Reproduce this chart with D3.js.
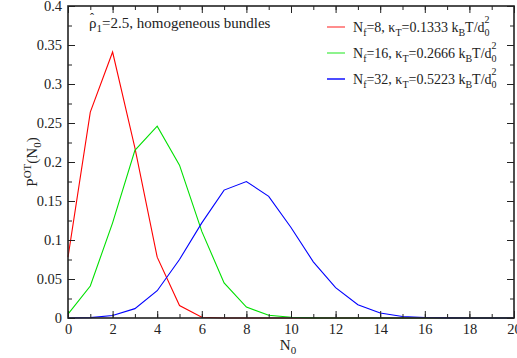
<!DOCTYPE html>
<html>
<head>
<meta charset="utf-8">
<script src="https://cdn.jsdelivr.net/npm/d3@7/dist/d3.min.js"></script>
</head>
<body style="margin:0;background:#fff">
<svg id="chart" width="517" height="358"></svg>
<script>
// Occupation number N0 and the distribution P^OT(N0) for three bundle sizes
const n0 = d3.range(0, 21);
const pNf8  = [0.078, 0.264, 0.341, 0.218, 0.078, 0.016, 0.001, 0, 0, 0, 0, 0, 0, 0, 0, 0, 0, 0, 0, 0, 0];
const pNf16 = [0.005, 0.041, 0.122, 0.215, 0.246, 0.196, 0.111, 0.045, 0.014, 0.0035, 0.001, 0.0002, 0, 0, 0, 0, 0, 0, 0, 0, 0];
const pNf32 = [0, 0.0005, 0.0033, 0.012, 0.035, 0.075, 0.122, 0.164, 0.175, 0.156, 0.116, 0.072, 0.039, 0.017, 0.0065, 0.002, 0.0006, 0.0001, 0, 0, 0];
const seriesNames = [
  { nf: "32", kt: "0.5223" },
  { nf: "16", kt: "0.2666" },
  { nf: "8",  kt: "0.1333" }
];
const xTicks = [0, 2, 4, 6, 8, 10, 12, 14, 16, 18, 20];
const yTicks = [0, 0.05, 0.1, 0.15, 0.2, 0.25, 0.3, 0.35, 0.4];

const FONT = "'Liberation Serif'";
const svg = d3.select("#chart");
const m = { left: 68, right: 3, top: 6, bottom: 40 };
const W = 517, H = 358;
const x = d3.scaleLinear().domain([0, 20]).range([m.left, W - m.right]);
const y = d3.scaleLinear().domain([0, 0.4]).range([H - m.bottom, m.top]);

const series = [
  { values: pNf8,  color: "#ff0000", legend: "#ff7070", label: seriesNames[2] },
  { values: pNf16, color: "#00e000", legend: "#70f070", label: seriesNames[1] },
  { values: pNf32, color: "#0000ff", legend: "#2020ff", label: seriesNames[0] }
];

// curves
const line = d3.line().x((d, i) => x(n0[i])).y(d => y(d));
series.forEach(s => {
  svg.append("path").datum(s.values)
    .attr("fill", "none").attr("stroke", s.color).attr("stroke-width", 1.1)
    .attr("d", line);
});

// axes with inward ticks on all four sides
const fontSize = 14.5;
function styleAxis(g) {
  g.attr("font-family", null).attr("font-size", null);
  g.select(".domain").remove();
  g.selectAll("line").attr("stroke", "#222").attr("stroke-width", 1);
  g.selectAll("text").style("font-family", FONT).style("font-size", fontSize + "px").attr("fill", "#222");
}
const xMinor = d3.range(0, 21, 1);
const yMinor = d3.range(0, 0.4001, 0.025);

svg.append("g").attr("transform", `translate(0,${y(0)})`)
  .call(d3.axisBottom(x).tickValues(xMinor).tickSize(-4).tickFormat(""))
  .call(styleAxis);
svg.append("g").attr("transform", `translate(0,${y(0)})`)
  .call(d3.axisBottom(x).tickValues(xTicks).tickSize(-7).tickPadding(6).tickFormat(d3.format("d")))
  .call(styleAxis);
svg.append("g").attr("transform", `translate(0,${y(0.4)})`)
  .call(d3.axisTop(x).tickValues(xMinor).tickSize(-4).tickFormat(""))
  .call(styleAxis);
svg.append("g").attr("transform", `translate(0,${y(0.4)})`)
  .call(d3.axisTop(x).tickValues(xTicks).tickSize(-7).tickFormat(""))
  .call(styleAxis);

svg.append("g").attr("transform", `translate(${x(0)},0)`)
  .call(d3.axisLeft(y).tickValues(yMinor).tickSize(-4).tickFormat(""))
  .call(styleAxis);
svg.append("g").attr("transform", `translate(${x(0)},0)`)
  .call(d3.axisLeft(y).tickValues(yTicks).tickSize(-7).tickPadding(6).tickFormat(d => d === 0 ? "0" : String(+d.toFixed(2))))
  .call(styleAxis);
svg.append("g").attr("transform", `translate(${x(20)},0)`)
  .call(d3.axisRight(y).tickValues(yMinor).tickSize(-4).tickFormat(""))
  .call(styleAxis);
svg.append("g").attr("transform", `translate(${x(20)},0)`)
  .call(d3.axisRight(y).tickValues(yTicks).tickSize(-7).tickFormat(""))
  .call(styleAxis);

// frame
svg.append("rect")
  .attr("x", x(0)).attr("y", y(0.4))
  .attr("width", x(20) - x(0)).attr("height", y(0) - y(0.4))
  .attr("fill", "none").attr("stroke", "#222").attr("stroke-width", 1.6);

function txt(sel) { return sel.style("font-family", FONT).attr("fill", "#222"); }

// axis titles
const xl = txt(svg.append("text")).attr("x", 288).attr("y", 350)
  .attr("text-anchor", "middle").attr("font-size", 15);
xl.append("tspan").text("N");
xl.append("tspan").attr("font-size", 11).attr("dy", 4).text("0");

const yl = txt(svg.append("text"))
  .attr("transform", "translate(37,162) rotate(-90)")
  .attr("text-anchor", "middle").attr("font-size", 15);
yl.append("tspan").text("P");
yl.append("tspan").attr("font-size", 11).attr("dy", -6).text("OT");
yl.append("tspan").attr("dy", 6).text("(N");
yl.append("tspan").attr("font-size", 11).attr("dy", 4).text("0");
yl.append("tspan").attr("dy", -4).text(")");

// annotation
const ann = txt(svg.append("text")).attr("x", 89).attr("y", 28).attr("font-size", 15);
ann.append("tspan").text("\u03C1");
ann.append("tspan").attr("font-size", 11).attr("dy", 4).text("1");
ann.append("tspan").attr("dy", -4).text("=2.5, homogeneous bundles");
txt(svg.append("text")).attr("x", 90).attr("y", 22).attr("font-size", 12).text("\u02C6");

// legend
const legY = [27, 53, 79];
series.forEach((s, i) => {
  const ly = legY[i];
  svg.append("line").attr("x1", 327).attr("x2", 345).attr("y1", ly).attr("y2", ly)
    .attr("stroke", s.legend).attr("stroke-width", 1.6);
  const t = txt(svg.append("text")).attr("x", 353).attr("y", ly + 5).attr("font-size", 14);
  t.append("tspan").text("N");
  t.append("tspan").attr("font-size", 10).attr("dy", 4).text("f");
  t.append("tspan").attr("dy", -4).text("=" + s.label.nf + ", \u03BA");
  t.append("tspan").attr("font-size", 10).attr("dy", 4).text("T");
  t.append("tspan").attr("dy", -4).text("=" + s.label.kt + " k");
  t.append("tspan").attr("font-size", 10).attr("dy", 4).text("B");
  t.append("tspan").attr("dy", -4).text("T/d");
  t.append("tspan").attr("font-size", 10).attr("dy", 4).text("0");
  t.append("tspan").attr("font-size", 10).attr("dx", -5).attr("dy", -13).text("2");
});
</script>
</body>
</html>
